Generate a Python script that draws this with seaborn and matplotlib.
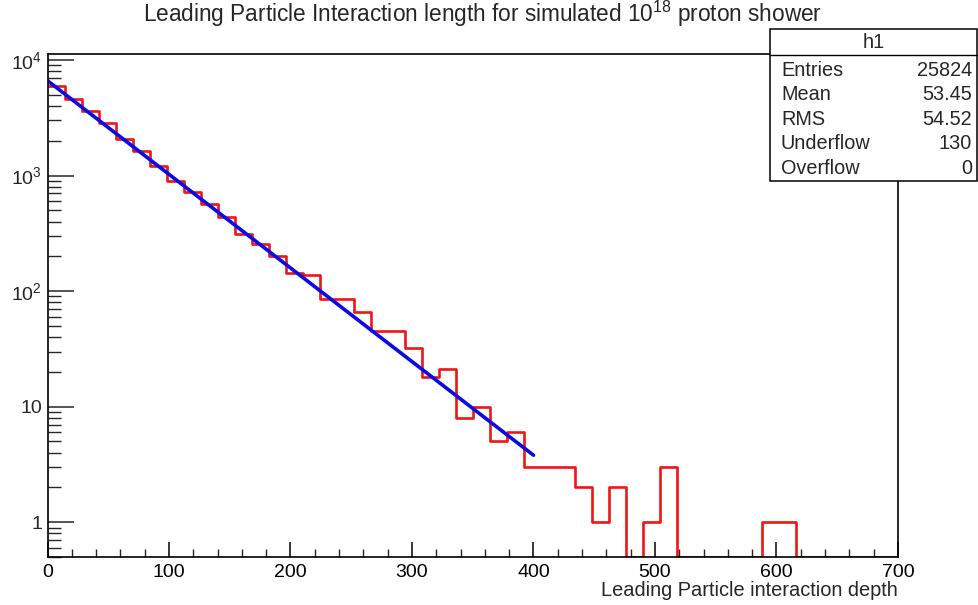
import numpy as np
import pandas as pd
import matplotlib
matplotlib.use("Agg")
import matplotlib.pyplot as plt
import matplotlib.ticker as mticker
from matplotlib.patches import Rectangle
from matplotlib.lines import Line2D
import seaborn as sns

# ---------------- data ----------------
X_MIN, X_MAX, N_BINS = 0, 700, 50
counts = [5900, 4600, 3650, 2870, 2060, 1630, 1210, 900, 717, 568,
          440, 312, 256, 201, 143, 138, 85, 85, 66, 45,
          45, 32, 18, 21, 8, 10, 5, 6, 3, 3,
          3, 2, 1, 2, 0, 1, 3, 0, 0, 0,
          0, 0, 1, 1, 0, 0, 0, 0, 0, 0]
fit_x = [0, 400]
fit_y = [6620, 3.8]
x_ticks = [0, 100, 200, 300, 400, 500, 600, 700]
y_ticks = [1, 10, 100, 1000, 10000]
title = "Leading Particle Interaction length for simulated 10$^{\\mathregular{18}}$ proton shower"
x_label = "Leading Particle interaction depth"
stats_name = "h1"
stats_labels = ["Entries", "Mean", "RMS", "Underflow", "Overflow"]
stats_values = ["25824", "53.45", "54.52", "130", "0"]

Y_MIN, Y_MAX = 0.5, 11270

# ---------------- style ----------------
sns.set_style("white")
plt.rcParams['font.family'] = ['Liberation Sans', 'DejaVu Sans']
plt.rcParams['mathtext.fontset'] = 'custom'
plt.rcParams['mathtext.rm'] = 'Liberation Sans'
plt.rcParams['mathtext.it'] = 'Liberation Sans:italic'

W, H = 979, 605
fig = plt.figure(figsize=(W / 100, H / 100), dpi=100)
fig.patch.set_facecolor('white')

ax_l, ax_r, ax_t, ax_b = 47.5, 898, 54, 557
ax = fig.add_axes([ax_l / W, (H - ax_b) / H, (ax_r - ax_l) / W, (ax_b - ax_t) / H])

edges = np.linspace(X_MIN, X_MAX, N_BINS + 1)
centers = (edges[:-1] + edges[1:]) / 2
# ROOT draws empty bins along the lower frame edge
draw_counts = np.clip(np.array(counts, dtype=float), Y_MIN, None)
df = pd.DataFrame({"x": centers, "w": draw_counts})

sns.histplot(data=df, x="x", weights="w", bins=N_BINS, binrange=(X_MIN, X_MAX),
             element="step", fill=False, color="#f01414", linewidth=1.9, ax=ax)
sns.lineplot(x=fit_x, y=fit_y, color="#0a0ae6", linewidth=2.6, ax=ax)

ax.set_yscale("log")
ax.set_xlim(X_MIN, X_MAX)
ax.set_ylim(Y_MIN, Y_MAX)
ax.set_xlabel("")
ax.set_ylabel("")

for s in ax.spines.values():
    s.set_visible(True)
    s.set_color("black")
    s.set_linewidth(1.2)

ax.xaxis.set_major_locator(mticker.FixedLocator(x_ticks))
ax.xaxis.set_minor_locator(mticker.MultipleLocator(20))
ax.yaxis.set_major_locator(mticker.FixedLocator(y_ticks))
ax.yaxis.set_minor_locator(mticker.LogLocator(base=10, subs=np.arange(2, 10) * 1.0, numticks=20))
ax.yaxis.set_minor_formatter(mticker.NullFormatter())


def yfmt(v, pos):
    if v == 1:
        return "1"
    if v == 10:
        return "10"
    return r"$\mathregular{10^{%d}}$" % int(round(np.log10(v)))


ax.yaxis.set_major_formatter(mticker.FuncFormatter(yfmt))
ax.xaxis.set_major_formatter(mticker.FuncFormatter(lambda v, p: "%d" % v))

ax.tick_params(axis="x", which="major", direction="in", length=11, width=1.1,
               labelsize=14, pad=5, top=False, bottom=True, colors="black")
ax.tick_params(axis="x", which="minor", direction="in", length=5.5, width=1.0,
               top=False, bottom=True)
ax.tick_params(axis="y", which="major", direction="in", length=19, width=1.1,
               labelsize=14, pad=4, left=True, right=False)
ax.tick_params(axis="y", which="minor", direction="in", length=9.5, width=1.0,
               left=True, right=False)
ax.grid(False)

# title and axis label
fig.text(483 / W, (H - 14) / H, title, ha="center", va="center", fontsize=16.3)
fig.text(ax_r / W, (H - 591) / H, x_label, ha="right", va="center", fontsize=14.4)

# stats box
bx_l, bx_r, bx_t, bx_b = 770, 977, 29, 181
fig.add_artist(Rectangle((bx_l / W, (H - bx_b) / H), (bx_r - bx_l) / W, (bx_b - bx_t) / H,
                         transform=fig.transFigure, facecolor="white",
                         edgecolor="black", linewidth=1.1, zorder=10))
fig.add_artist(Line2D([bx_l / W, bx_r / W], [(H - 55) / H, (H - 55) / H],
                      transform=fig.transFigure, color="black", linewidth=1.0, zorder=11))
fig.text((bx_l + bx_r) / 2 / W, (H - 42) / H, stats_name, ha="center", va="center",
         fontsize=14.3, zorder=12)
row_y = [70, 94.5, 119, 143.5, 168]
for lab, val, yy in zip(stats_labels, stats_values, row_y):
    fig.text(781 / W, (H - yy) / H, lab, ha="left", va="center", fontsize=14.3, zorder=12)
    fig.text(972 / W, (H - yy) / H, val, ha="right", va="center", fontsize=14.3, zorder=12)

fig.savefig("out.png", dpi=100, facecolor="white")
